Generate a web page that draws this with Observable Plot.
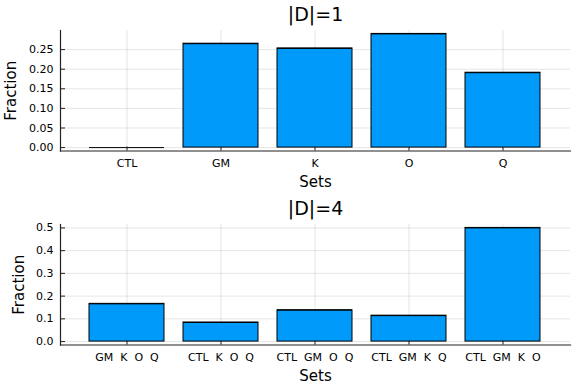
<!DOCTYPE html>
<html>
<head>
<meta charset="utf-8">
<script src="https://cdn.jsdelivr.net/npm/d3@7"></script>
<script src="https://cdn.jsdelivr.net/npm/@observablehq/plot@0.6"></script>
<style>
  html, body { margin: 0; padding: 0; background: #fff; }
  svg { display: block; }
  svg text { white-space: pre; }
</style>
</head>
<body>
<div id="chart"></div>
<script>
// ---- data ----
const sets1 = ["CTL", "GM", "K", "O", "Q"];
const frac1 = [0, 0.265, 0.253, 0.29, 0.191];
const ticks1 = [0, 0.05, 0.10, 0.15, 0.20, 0.25];

const sets4 = ["GM  K  O  Q", "CTL  K  O  Q", "CTL  GM  O  Q", "CTL  GM  K  Q", "CTL  GM  K  O"];
const frac4 = [0.166, 0.084, 0.138, 0.114, 0.5];
const ticks4 = [0, 0.1, 0.2, 0.3, 0.4, 0.5];

const titles = ["|D|=1", "|D|=4"];
const xLabel = "Sets";
const yLabel = "Fraction";

function chart(sets, fracs, ticks, yDomain, fmt, title, fracDx) {
  const data = sets.map((s, i) => ({set: s, value: fracs[i]}));
  return Plot.plot({
    width: 581,
    height: 194,
    marginTop: 30,
    marginBottom: 43.5,
    marginLeft: 60,
    marginRight: 11,
    style: {fontFamily: "DejaVu Sans", fontSize: "11px", color: "#000", background: "#fff"},
    x: {type: "band", domain: sets, paddingInner: 0.2, paddingOuter: 0.307, align: 0.5},
    y: {domain: yDomain},
    marks: [
      Plot.gridY(ticks, {stroke: "#000", strokeOpacity: 0.1, strokeWidth: 1}),
      Plot.gridX(sets, {stroke: "#000", strokeOpacity: 0.1, strokeWidth: 1}),
      Plot.barY(data, {x: "set", y: "value", fill: "#009AFA", stroke: "#000", strokeWidth: 1}),
      Plot.tickY(data, {x: "set", y: "value", stroke: "#000", strokeWidth: 1}),
      Plot.frame({anchor: "left", stroke: "#222", strokeWidth: 1.2}),
      Plot.frame({anchor: "bottom", stroke: "#222", strokeWidth: 1.2}),
      Plot.axisY(ticks, {tickSize: -5, tickPadding: 12, tickFormat: fmt, label: null, stroke: "#222", fontSize: 11}),
      Plot.axisX({tickSize: -4, tickPadding: 12.4, label: null, stroke: "#222", fontSize: 11}),
      Plot.text([title], {frameAnchor: "top", lineAnchor: "middle", textAnchor: "middle", dy: -15.6, fontSize: 19, fill: "#000"}),
      Plot.text([xLabel], {frameAnchor: "bottom", lineAnchor: "middle", textAnchor: "middle", dy: 31.2, fontSize: 15, fill: "#000"}),
      Plot.text([yLabel], {frameAnchor: "left", lineAnchor: "middle", textAnchor: "middle", dx: fracDx, rotate: -90, fontSize: 15, fill: "#000"})
    ]
  });
}

const root = document.getElementById("chart");
root.appendChild(chart(sets1, frac1, ticks1, [-0.0087, 0.2987], d3.format(".2f"), titles[0], -49.3));
root.appendChild(chart(sets4, frac4, ticks4, [-0.015, 0.515], d3.format(".1f"), titles[1], -41.3));
</script>
</body>
</html>
